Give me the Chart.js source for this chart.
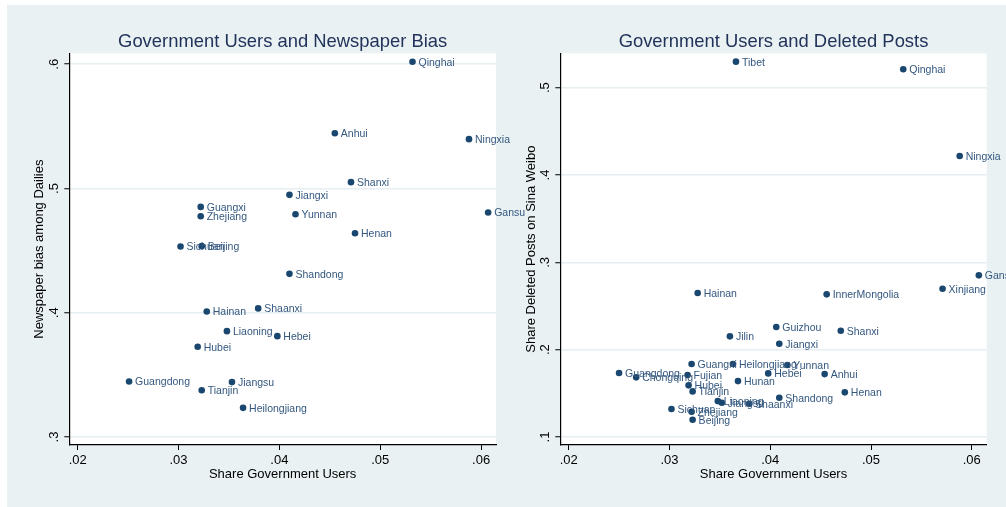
<!DOCTYPE html>
<html>
<head>
<meta charset="utf-8">
<script src="https://cdn.jsdelivr.net/npm/chart.js@4.4.1/dist/chart.umd.min.js"></script>
<style>
  html, body { margin: 0; padding: 0; background: #ffffff; width: 1006px; height: 507px; overflow: hidden; }
  #bg { position: absolute; left: 7px; top: 5px; width: 999px; height: 502px; background: #e9f1f3; }
  .panel { position: absolute; top: 5px; height: 502px; }
  #panelLeft { left: 7px; width: 540px; }
  #panelRight { left: 503px; width: 503px; }
</style>
</head>
<body>
<div id="bg"></div>
<div class="panel" id="panelLeft"><canvas id="biasChart"></canvas></div>
<div class="panel" id="panelRight"><canvas id="deletedChart"></canvas></div>
<script>
/* ---- data: left panel (newspaper bias) ---- */
const biasProvinces = ['Qinghai', 'Anhui', 'Ningxia', 'Shanxi', 'Jiangxi', 'Guangxi', 'Zhejiang', 'Yunnan',
  'Gansu', 'Henan', 'Sichuan', 'Beijing', 'Shandong', 'Shaanxi', 'Hainan', 'Liaoning', 'Hebei', 'Hubei',
  'Guangdong', 'Jiangsu', 'Tianjin', 'Heilongjiang'];
const biasGovShare = [0.0532, 0.0455, 0.0588, 0.0471, 0.0410, 0.0322, 0.0322, 0.0416,
  0.0607, 0.0475, 0.0302, 0.0323, 0.0410, 0.0379, 0.0328, 0.0348, 0.0398, 0.0319,
  0.0251, 0.0353, 0.0323, 0.0364];
const biasValues = [0.602, 0.5445, 0.5397, 0.5051, 0.4949, 0.4852, 0.4777, 0.4793,
  0.4807, 0.4640, 0.4533, 0.4536, 0.4313, 0.4035, 0.4010, 0.3852, 0.3812, 0.3726,
  0.3447, 0.3442, 0.3377, 0.3235];

/* ---- data: right panel (deleted posts) ---- */
const deletedProvinces = ['Tibet', 'Qinghai', 'Ningxia', 'Gansu', 'Xinjiang', 'Hainan', 'InnerMongolia',
  'Guizhou', 'Shanxi', 'Jilin', 'Jiangxi', 'Guangxi', 'Heilongjiang', 'Yunnan', 'Guangdong', 'Fujian',
  'Hebei', 'Anhui', 'Chongqing', 'Hubei', 'Hunan', 'Tianjin', 'Henan', 'Shandong', 'Liaoning',
  'Jiangsu', 'Shaanxi', 'Sichuan', 'Zhejiang', 'Beijing'];
const deletedGovShare = [0.0366, 0.0532, 0.0588, 0.0607, 0.0571, 0.0328, 0.0456,
  0.0406, 0.0470, 0.0360, 0.0409, 0.0322, 0.0363, 0.0417, 0.0250, 0.0318,
  0.0398, 0.0454, 0.0267, 0.0319, 0.0368, 0.0323, 0.0474, 0.0409, 0.0348,
  0.0352, 0.0379, 0.0302, 0.0322, 0.0323];
const deletedValues = [0.5298, 0.5211, 0.4218, 0.2851, 0.2698, 0.2648, 0.2633,
  0.2259, 0.2217, 0.2152, 0.2068, 0.1835, 0.1835, 0.1824, 0.1732, 0.1709,
  0.1728, 0.1720, 0.1683, 0.1591, 0.1640, 0.1522, 0.1511, 0.1449, 0.1411,
  0.1392, 0.1380, 0.1320, 0.1289, 0.1197];

/* ---- ticks ---- */
const xTicks = [0.02, 0.03, 0.04, 0.05, 0.06];
const biasYTicks = [0.3, 0.4, 0.5, 0.6];
const deletedYTicks = [0.1, 0.2, 0.3, 0.4, 0.5];

const FONT = '"Liberation Sans", Arial, Helvetica, sans-serif';
const NAVY = '#1a476f';
const LABEL_COLOR = '#33577e';

// ".06" style labels, Stata drops the leading zero
function stataLabel(v, digits) {
  return String(Number(v.toFixed(digits))).replace(/^0\./, '.');
}

const plotBackground = {
  id: 'plotBackground',
  beforeDraw(chart) {
    const a = chart.chartArea;
    const ctx = chart.ctx;
    ctx.save();
    ctx.fillStyle = '#ffffff';
    ctx.fillRect(a.left, a.top, a.right - a.left, a.bottom - a.top);
    ctx.restore();
  },
};

const markerLabels = {
  id: 'markerLabels',
  afterDatasetsDraw(chart) {
    const ctx = chart.ctx;
    const names = chart.config.options.plugins.markerLabels.names;
    ctx.save();
    ctx.font = '10.5px ' + FONT;
    ctx.fillStyle = LABEL_COLOR;
    ctx.textAlign = 'left';
    ctx.textBaseline = 'middle';
    chart.getDatasetMeta(0).data.forEach(function (pt, i) {
      ctx.fillText(names[i], pt.x + 6, pt.y + 1);
    });
    ctx.restore();
  },
};

function makePanel(canvasId, cfg) {
  const ctx = document.getElementById(canvasId).getContext('2d');
  return new Chart(ctx, {
    type: 'scatter',
    data: {
      datasets: [{
        data: cfg.x.map((v, i) => ({ x: v, y: cfg.y[i] })),
        backgroundColor: NAVY,
        borderColor: NAVY,
        borderWidth: 0,
        pointRadius: 3.3,
        pointHoverRadius: 3.3,
      }],
    },
    options: {
      responsive: true,
      maintainAspectRatio: false,
      animation: false,
      events: [],
      layout: { padding: { left: 0, right: cfg.padRight, top: 0, bottom: 0 } },
      scales: {
        x: {
          type: 'linear',
          min: 0.01917,
          max: 0.06148,
          afterBuildTicks: s => { s.ticks = xTicks.map(v => ({ value: v })); },
          afterFit: s => { s.height = 62; },
          ticks: {
            callback: v => stataLabel(v, 2),
            color: '#000',
            font: { family: FONT, size: 13 },
            padding: 3,
            maxRotation: 0,
            autoSkip: false,
          },
          grid: { drawOnChartArea: false, drawTicks: true, tickLength: 5, tickColor: '#000', tickWidth: 1 },
          border: { display: true, color: '#000', width: 1.2 },
          title: {
            display: true,
            text: 'Share Government Users',
            color: '#000',
            font: { family: FONT, size: 13 },
            padding: { top: 0, bottom: 25.2 },
          },
        },
        y: {
          type: 'linear',
          min: cfg.yMin,
          max: cfg.yMax,
          afterBuildTicks: s => { s.ticks = cfg.yTicks.map(v => ({ value: v })); },
          afterFit: s => { s.width = cfg.axisWidth; },
          ticks: {
            callback: v => stataLabel(v, 1),
            color: '#000',
            font: { family: FONT, size: 13 },
            minRotation: 90,
            maxRotation: 90,
            crossAlign: 'center',
            padding: 4.5,
            autoSkip: false,
          },
          grid: { color: '#e6eef1', lineWidth: 1.5, tickLength: 5, tickColor: '#000', tickWidth: 1 },
          border: { display: true, color: '#000', width: 1.2 },
          title: {
            display: true,
            text: cfg.yTitle,
            color: '#000',
            font: { family: FONT, size: 13 },
            padding: { top: cfg.yTitlePad, bottom: 0 },
          },
        },
      },
      plugins: {
        legend: { display: false },
        tooltip: { enabled: false },
        title: {
          display: true,
          fullSize: false,
          text: cfg.title,
          color: '#22335a',
          font: { family: FONT, size: 18.4, weight: 'normal' },
          padding: { top: 26, bottom: 0.2 },
        },
        markerLabels: { names: cfg.names },
      },
    },
    plugins: [plotBackground, markerLabels],
  });
}

makePanel('biasChart', {
  title: 'Government Users and Newspaper Bias',
  yTitle: 'Newspaper bias among Dailies',
  names: biasProvinces,
  x: biasGovShare,
  y: biasValues,
  yTicks: biasYTicks,
  yMin: 0.2936,
  yMax: 0.6088,
  axisWidth: 62.3,
  yTitlePad: 25,
  padRight: 51,
});

makePanel('deletedChart', {
  title: 'Government Users and Deleted Posts',
  yTitle: 'Share Deleted Posts on Sina Weibo',
  names: deletedProvinces,
  x: deletedGovShare,
  y: deletedValues,
  yTicks: deletedYTicks,
  yMin: 0.0908,
  yMax: 0.5394,
  axisWidth: 57.3,
  yTitlePad: 20.2,
  padRight: 19.3,
});
</script>
</body>
</html>
